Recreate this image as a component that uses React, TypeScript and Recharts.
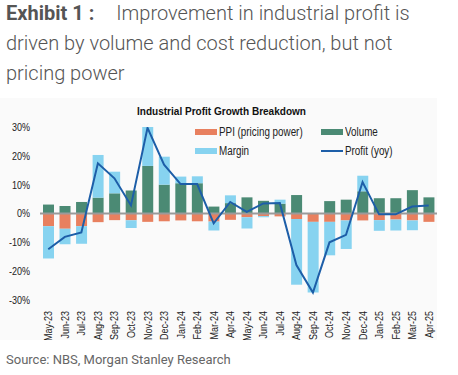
import React from 'react';
import { ComposedChart, Bar, Line, XAxis, YAxis, ReferenceLine, Legend } from 'recharts';

const months = [
  'May-23', 'Jun-23', 'Jul-23', 'Aug-23', 'Sep-23', 'Oct-23', 'Nov-23', 'Dec-23',
  'Jan-24', 'Feb-24', 'Mar-24', 'Apr-24', 'May-24', 'Jun-24', 'Jul-24', 'Aug-24',
  'Sep-24', 'Oct-24', 'Nov-24', 'Dec-24', 'Jan-25', 'Feb-25', 'Mar-25', 'Apr-25',
];
const ppi = [-4.4, -5.3, -4.4, -3.0, -2.3, -2.3, -2.9, -2.7, -2.4, -2.7, -2.8, -2.2, -1.3, -0.9, -1.0, -1.9, -2.9, -2.9, -2.4, -2.4, -2.3, -2.1, -2.4, -2.9];
const volume = [3.1, 2.6, 4.0, 5.5, 7.0, 8.0, 16.5, 10.0, 10.5, 10.5, 2.4, 3.6, 5.6, 4.4, 3.4, 6.4, 0.0, 4.3, 4.8, 7.7, 5.3, 5.3, 8.1, 5.6];
const margin = [-11.2, -5.4, -6.1, 14.8, 7.5, -2.7, 14.1, 9.7, 2.3, 2.4, -3.1, 2.7, -3.9, -0.4, 1.4, -22.8, -24.5, -11.6, -9.9, 5.4, -3.7, -3.8, -3.4, 0.0];
const profit = [-12.4, -8.1, -6.6, 17.4, 12.2, 2.8, 29.7, 16.9, 10.2, 10.2, -3.4, 4.0, 0.6, 3.5, 3.6, -17.9, -27.4, -10.0, -7.4, 10.9, -0.3, -0.3, 2.4, 2.8];
const yTicks = [-30, -20, -10, 0, 10, 20, 30];

const data = months.map((m, i) => ({
  month: m,
  ppi: ppi[i],
  volume: volume[i],
  margin: margin[i],
  profit: profit[i],
}));

const C_PPI = '#e8805f';
const C_VOL = '#4b8a74';
const C_MAR = '#87d3f0';
const C_PROFIT = '#1d5ea8';
// no narrow font installed, so squeeze Liberation Sans horizontally
const SANS = "'Liberation Sans', Arial, sans-serif";
const SQ = 0.82;

const MonthTick = (props: any) => {
  const { x, y, payload } = props;
  return (
    <text
      transform={`translate(${x + 4}, ${y + 3}) rotate(-90) scale(${SQ}, 1)`}
      textAnchor="end"
      fontSize={11}
      fontFamily={SANS}
      fill="#222"
    >
      {payload.value}
    </text>
  );
};

const PctTick = (props: any) => {
  const { x, y, payload } = props;
  return (
    <text
      transform={`translate(${x}, ${y}) scale(${SQ}, 1)`}
      textAnchor="end"
      dy="0.35em"
      fontSize={11}
      fontFamily={SANS}
      fill="#222"
    >
      {`${payload.value}%`}
    </text>
  );
};

const LegendBox = () => {
  const item = (label: string, color: string, isLine: boolean, left: number, top: number) => (
    <div style={{ position: 'absolute', left, top, height: 14, display: 'flex', alignItems: 'center', whiteSpace: 'nowrap' }}>
      <span
        style={{
          display: 'inline-block',
          width: 22,
          height: isLine ? 2 : 6,
          background: color,
          marginRight: 2,
        }}
      />
      <span
        style={{
          display: 'inline-block',
          fontSize: 12,
          fontFamily: SANS,
          color: '#222',
          transform: `scaleX(${SQ})`,
          transformOrigin: 'left center',
        }}
      >
        {label}
      </span>
    </div>
  );
  return (
    <div style={{ position: 'relative', width: 437, height: 0 }}>
      {item('PPI (pricing power)', C_PPI, false, 195, 27)}
      {item('Volume', C_VOL, false, 321, 27)}
      {item('Margin', C_MAR, false, 195, 46)}
      {item('Profit (yoy)', C_PROFIT, true, 321, 46)}
    </div>
  );
};

export default function App() {
  return (
    <div style={{ position: 'absolute', left: 0, top: 0, width: 458, height: 375, background: '#fff', fontFamily: 'Roboto, sans-serif' }}>
      <div style={{ position: 'absolute', left: 6, top: -2, fontSize: 20, lineHeight: '30px', color: '#555', fontWeight: 300 }}>
        <span style={{ fontWeight: 700, marginRight: 22 }}>Exhibit 1 :</span>Improvement in industrial profit is
        <br />driven by volume and cost reduction, but not
        <br />pricing power
      </div>

      <div style={{ position: 'absolute', left: 0, top: 98, width: 437, height: 242, background: '#fafafa' }}>
        <ComposedChart
          width={437}
          height={242}
          data={data}
          stackOffset="sign"
          barCategoryGap="18%"
          margin={{ top: 29, right: 0, bottom: 0, left: 0 }}
        >
          <XAxis
            dataKey="month"
            axisLine={false}
            tickLine={false}
            interval={0}
            height={40}
            tick={<MonthTick />}
          />
          <YAxis
            domain={[-30, 30]}
            ticks={yTicks}
            allowDataOverflow
            axisLine={false}
            tickLine={false}
            width={40}
            tickMargin={4}
            tick={<PctTick />}
          />
          <Legend content={<LegendBox />} verticalAlign="top" wrapperStyle={{ top: 0, left: 0 }} />
          <Bar dataKey="volume" name="Volume" stackId="s" fill={C_VOL} isAnimationActive={false} />
          <Bar dataKey="ppi" name="PPI (pricing power)" stackId="s" fill={C_PPI} isAnimationActive={false} />
          <Bar dataKey="margin" name="Margin" stackId="s" fill={C_MAR} isAnimationActive={false} />
          <ReferenceLine y={0} stroke="#9a9a9a" strokeWidth={2} />
          <Line
            dataKey="profit"
            name="Profit (yoy)"
            type="linear"
            stroke={C_PROFIT}
            strokeWidth={2}
            dot={false}
            isAnimationActive={false}
          />
        </ComposedChart>
        <svg width={437} height={24} style={{ position: 'absolute', left: 0, top: 0 }}>
          <text
            x={137}
            y={17}
            textLength={169}
            lengthAdjust="spacingAndGlyphs"
            fontSize={11.5}
            fontWeight={700}
            fontFamily={SANS}
            fill="#111"
          >
            Industrial Profit Growth Breakdown
          </text>
        </svg>
      </div>

      <div style={{ position: 'absolute', left: 6, top: 352, fontSize: 13, color: '#666' }}>
        Source: NBS, Morgan Stanley Research
      </div>
    </div>
  );
}
